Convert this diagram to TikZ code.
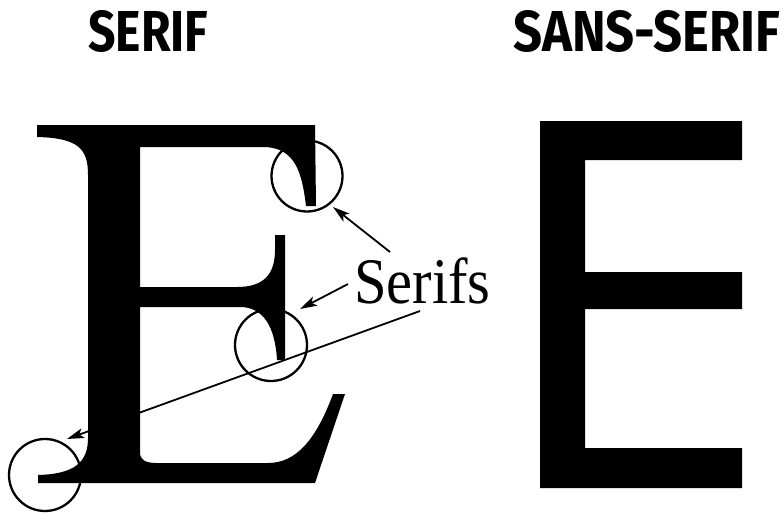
\documentclass[tikz,border=0pt]{standalone}
\usepackage{fontspec}
\newfontfamily\titlefont{Fira Sans}
\newfontfamily\labelfont{Liberation Serif}
\usetikzlibrary{arrows.meta}
\begin{document}
\begin{tikzpicture}[x=1pt,y=-1pt,
  glyph/.style={fill=black,draw=none},
  ring/.style={draw=black,line width=2.3pt,circle,inner sep=0pt,minimum size=71pt},
  pointer/.style={draw=black,line width=1.8pt,-{Stealth[length=17pt,width=10pt,inset=4pt]}},
  title/.style={inner sep=0pt,anchor=south west,font=\titlefont\bfseries}]
\useasboundingbox[fill=white] (0,0) rectangle (784,514);
% titles
\node[title] (t1) at (88,53) {\resizebox{120pt}{41pt}{SERIF}};
\node[title] (t2) at (513,53) {\resizebox{267pt}{41pt}{SANS-SERIF}};
% serif E
\path[glyph] (37,125) -- (315,125) -- (316,206) -- (306,206)
  .. controls (302,172) and (295,149) .. (266,147) -- (140,147)
  -- (140,287) -- (237,287) .. controls (262,287) and (275,276) .. (275,250)
  -- (275,235) -- (285,235) -- (285,360) -- (277,360)
  .. controls (275,326) and (263,307) .. (240,307) -- (140,307)
  -- (140,452) .. controls (140,460) and (145,463) .. (157,463)
  -- (268,463) .. controls (296,463) and (316,440) .. (333,394)
  -- (345,394) -- (315,483) -- (38,483) -- (38,475)
  .. controls (75,474) and (88,462) .. (88,438)
  -- (88,175) .. controls (88,150) and (80,138) .. (37,137) -- cycle;
% sans-serif E
\path[glyph] (540,121) -- (742,121) -- (742,160) -- (585,160) -- (585,272)
  -- (742,272) -- (742,309) -- (585,309) -- (585,448) -- (742,448)
  -- (742,488) -- (540,488) -- cycle;
% circles
\node[ring] (c1) at (307,176) {};
\node[ring,minimum size=72pt] (c2) at (271,345) {};
\node[ring,minimum size=72pt] (c3) at (45,475) {};
% label
\node[anchor=base west,inner sep=0pt,font=\labelfont\fontsize{65}{65}\selectfont] (lbl) at (354,303) {\scalebox{0.9}[1]{Serifs}};
% arrows
\coordinate (s1) at (390,252);
\coordinate (e1) at (333,207);
\coordinate (s2) at (348,284);
\coordinate (e2) at (300,309);
\coordinate (s3) at (420,311);
\coordinate (e3) at (67,439);
\draw[pointer] (s1) -- (e1);
\draw[pointer] (s2) -- (e2);
\draw[pointer] (s3) -- (e3);
\end{tikzpicture}
\end{document}
